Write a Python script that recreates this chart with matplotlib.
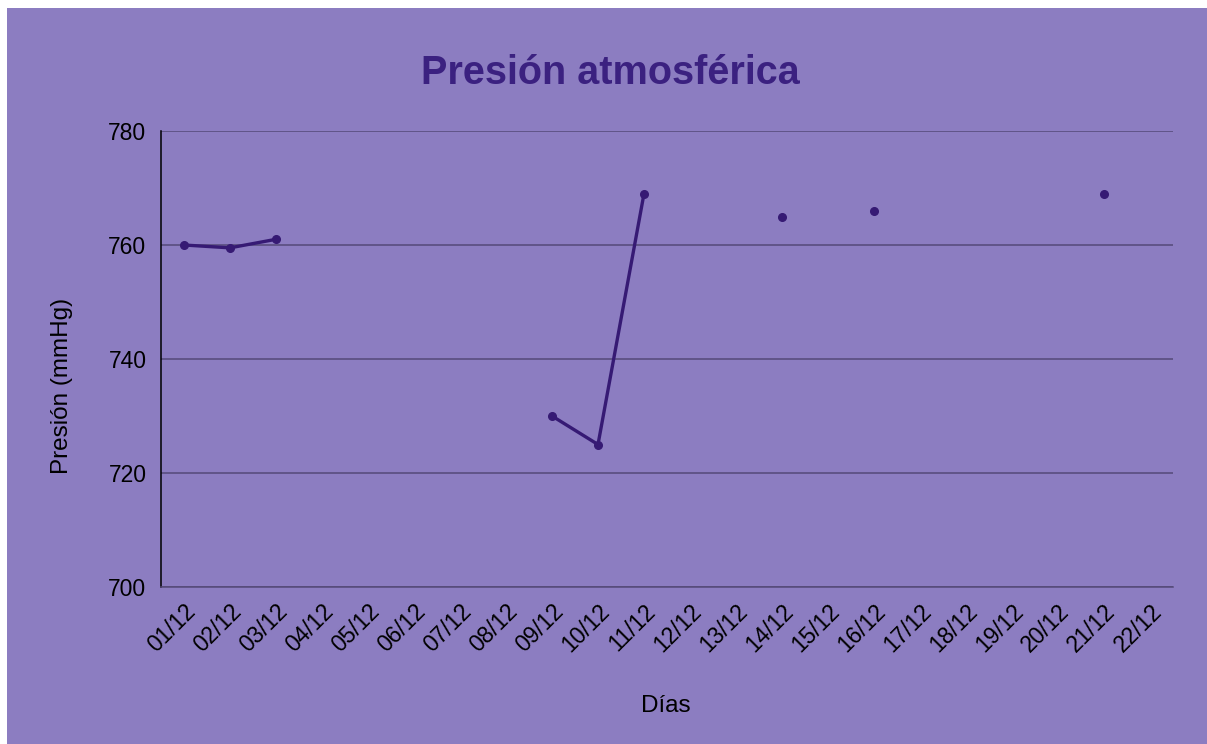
import matplotlib
matplotlib.use("Agg")
import matplotlib.pyplot as plt
import matplotlib.transforms as mtransforms
import numpy as np
from matplotlib.patches import Rectangle

plt.rcParams['font.family'] = ['Liberation Sans', 'DejaVu Sans']

dias = [f"{d:02d}/12" for d in range(1, 23)]
presion = [760, 759.5, 761, np.nan, np.nan, np.nan, np.nan, np.nan, 730, 725, 769,
           np.nan, np.nan, 765, np.nan, 766, np.nan, np.nan, np.nan, np.nan, 769, np.nan]
yticks = [700, 720, 740, 760, 780]

W, H = 1207, 744
fig = plt.figure(figsize=(W / 100, H / 100), dpi=100, facecolor='white')
bg = '#8c7dc1'
fig.patches.append(Rectangle((7 / W, 0), 1 - 7 / W, 1 - 8 / H, transform=fig.transFigure,
                             facecolor=bg, edgecolor='none', zorder=-10))

ax = fig.add_axes([161 / W, 1 - 587 / H, (1173 - 161) / W, (587 - 131) / H])
ax.set_facecolor(bg)
x = np.arange(len(dias))
line_c = '#361a74'
ax.plot(x, presion, color=line_c, lw=2.4, marker='o', ms=5.5, zorder=3, solid_capstyle='round')
ax.set_xlim(-0.5, len(dias) - 0.5)
ax.set_ylim(700, 780)
ax.set_yticks(yticks)
ax.set_xticks(x)
ax.set_xticklabels(dias, rotation=45, ha='right', va='top', rotation_mode='anchor', fontsize=16.5)
for lab in ax.get_xticklabels():
    lab.set_transform(lab.get_transform() + mtransforms.ScaledTranslation(14 / 100, 0, fig.dpi_scale_trans))
ax.tick_params(axis='both', length=0, colors='black')
ax.tick_params(axis='y', pad=10.5, labelsize=16.5)
ax.tick_params(axis='x', pad=9.5)
ax.grid(axis='y', color='#554a78', lw=1.1)
ax.set_axisbelow(True)
for s in ['top', 'right']:
    ax.spines[s].set_visible(False)
ax.spines['left'].set_color('black')
ax.spines['left'].set_linewidth(1.1)
ax.spines['bottom'].set_color('#554a78')
ax.spines['bottom'].set_linewidth(1.1)

fig.text(610 / W, 1 - 73 / H, 'Presión atmosférica', ha='center', va='center',
         fontsize=28.5, fontweight='bold', color='#3b2180')
fig.text(62 / W, 1 - 386 / H, 'Presión (mmHg)', ha='center', va='center', rotation=90, fontsize=17.5)
fig.text(666 / W, 1 - 706 / H, 'Días', ha='center', va='center', fontsize=17.5)

fig.savefig('out.png', dpi=100, facecolor='white')
